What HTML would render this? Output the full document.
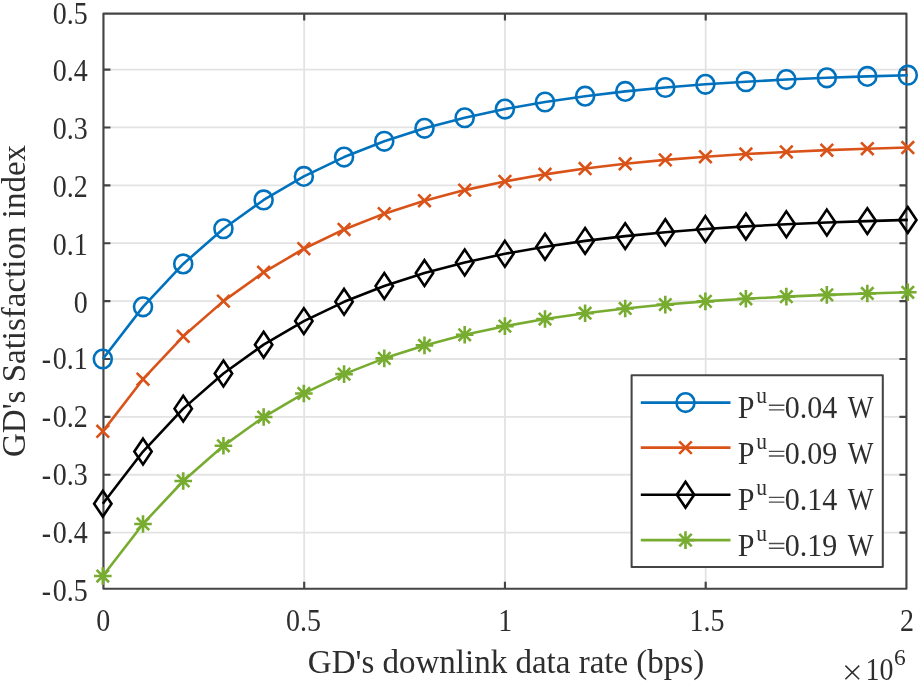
<!DOCTYPE html><html><head><meta charset="utf-8"><style>html,body{margin:0;padding:0;background:#fff;overflow:hidden;}svg{display:block;will-change:transform;}text{font-family:"Liberation Serif",serif;fill:#2e2e2e;}</style></head><body>
<svg width="922" height="683" viewBox="0 0 922 683">
<rect width="922" height="683" fill="#fff"/>
<g>
<path d="M304.20 13.56V588.75M504.95 13.56V588.75M705.70 13.56V588.75M103.45 69.56H906.44M103.45 127.45H906.44M103.45 185.33H906.44M103.45 243.22H906.44M103.45 301.10H906.44M103.45 358.99H906.44M103.45 416.87H906.44M103.45 474.75H906.44M103.45 532.64H906.44" stroke="#e3e3e3" stroke-width="1.8" fill="none"/>
<path d="M304.20 588.75v-7M304.20 13.56v7M504.95 588.75v-7M504.95 13.56v7M705.70 588.75v-7M705.70 13.56v7M103.45 69.56h7M906.44 69.56h-7M103.45 127.45h7M906.44 127.45h-7M103.45 185.33h7M906.44 185.33h-7M103.45 243.22h7M906.44 243.22h-7M103.45 301.10h7M906.44 301.10h-7M103.45 358.99h7M906.44 358.99h-7M103.45 416.87h7M906.44 416.87h-7M103.45 474.75h7M906.44 474.75h-7M103.45 532.64h7M906.44 532.64h-7" stroke="#444" stroke-width="2.15" stroke-linejoin="round" fill="none"/>
<rect x="103.45" y="13.56" width="802.99" height="575.19" stroke="#444" stroke-width="2.15" stroke-linejoin="round" fill="none"/>
<path d="M102.80 358.99 L143.01 306.87 L183.22 263.92 L223.43 228.75 L263.64 199.96 L303.85 176.38 L344.06 157.08 L384.27 141.28 L424.48 128.34 L464.69 117.75 L504.90 109.08 L545.00 101.98 L585.10 96.17 L625.20 91.41 L665.30 87.51 L705.40 84.32 L745.88 81.71 L786.36 79.57 L826.84 77.82 L867.32 76.38 L907.80 75.21" stroke="#0072BD" stroke-width="2.6" fill="none" stroke-linejoin="round"/>
 <ellipse cx="102.80" cy="358.99" rx="9.0" ry="9.3" fill="none" stroke="#0072BD" stroke-width="2.6"/>
 <ellipse cx="143.01" cy="306.87" rx="9.0" ry="9.3" fill="none" stroke="#0072BD" stroke-width="2.6"/>
 <ellipse cx="183.22" cy="263.92" rx="9.0" ry="9.3" fill="none" stroke="#0072BD" stroke-width="2.6"/>
 <ellipse cx="223.43" cy="228.75" rx="9.0" ry="9.3" fill="none" stroke="#0072BD" stroke-width="2.6"/>
 <ellipse cx="263.64" cy="199.96" rx="9.0" ry="9.3" fill="none" stroke="#0072BD" stroke-width="2.6"/>
 <ellipse cx="303.85" cy="176.38" rx="9.0" ry="9.3" fill="none" stroke="#0072BD" stroke-width="2.6"/>
 <ellipse cx="344.06" cy="157.08" rx="9.0" ry="9.3" fill="none" stroke="#0072BD" stroke-width="2.6"/>
 <ellipse cx="384.27" cy="141.28" rx="9.0" ry="9.3" fill="none" stroke="#0072BD" stroke-width="2.6"/>
 <ellipse cx="424.48" cy="128.34" rx="9.0" ry="9.3" fill="none" stroke="#0072BD" stroke-width="2.6"/>
 <ellipse cx="464.69" cy="117.75" rx="9.0" ry="9.3" fill="none" stroke="#0072BD" stroke-width="2.6"/>
 <ellipse cx="504.90" cy="109.08" rx="9.0" ry="9.3" fill="none" stroke="#0072BD" stroke-width="2.6"/>
 <ellipse cx="545.00" cy="101.98" rx="9.0" ry="9.3" fill="none" stroke="#0072BD" stroke-width="2.6"/>
 <ellipse cx="585.10" cy="96.17" rx="9.0" ry="9.3" fill="none" stroke="#0072BD" stroke-width="2.6"/>
 <ellipse cx="625.20" cy="91.41" rx="9.0" ry="9.3" fill="none" stroke="#0072BD" stroke-width="2.6"/>
 <ellipse cx="665.30" cy="87.51" rx="9.0" ry="9.3" fill="none" stroke="#0072BD" stroke-width="2.6"/>
 <ellipse cx="705.40" cy="84.32" rx="9.0" ry="9.3" fill="none" stroke="#0072BD" stroke-width="2.6"/>
 <ellipse cx="745.88" cy="81.71" rx="9.0" ry="9.3" fill="none" stroke="#0072BD" stroke-width="2.6"/>
 <ellipse cx="786.36" cy="79.57" rx="9.0" ry="9.3" fill="none" stroke="#0072BD" stroke-width="2.6"/>
 <ellipse cx="826.84" cy="77.82" rx="9.0" ry="9.3" fill="none" stroke="#0072BD" stroke-width="2.6"/>
 <ellipse cx="867.32" cy="76.38" rx="9.0" ry="9.3" fill="none" stroke="#0072BD" stroke-width="2.6"/>
 <ellipse cx="907.80" cy="75.21" rx="9.0" ry="9.3" fill="none" stroke="#0072BD" stroke-width="2.6"/>
<path d="M102.80 431.34 L143.01 379.23 L183.22 336.27 L223.43 301.11 L263.64 272.31 L303.85 248.74 L344.06 229.44 L384.27 213.64 L424.48 200.70 L464.69 190.11 L504.90 181.44 L545.00 174.34 L585.10 168.52 L625.20 163.76 L665.30 159.87 L705.40 156.68 L745.88 154.06 L786.36 151.93 L826.84 150.17 L867.32 148.74 L907.80 147.57" stroke="#D95319" stroke-width="2.6" fill="none" stroke-linejoin="round"/>
<path d="M96.50 425.04L109.10 437.64M96.50 437.64L109.10 425.04" stroke="#D95319" stroke-width="2.6" fill="none"/>
<path d="M136.71 372.93L149.31 385.53M136.71 385.53L149.31 372.93" stroke="#D95319" stroke-width="2.6" fill="none"/>
<path d="M176.92 329.97L189.52 342.57M176.92 342.57L189.52 329.97" stroke="#D95319" stroke-width="2.6" fill="none"/>
<path d="M217.13 294.81L229.73 307.41M217.13 307.41L229.73 294.81" stroke="#D95319" stroke-width="2.6" fill="none"/>
<path d="M257.34 266.01L269.94 278.61M257.34 278.61L269.94 266.01" stroke="#D95319" stroke-width="2.6" fill="none"/>
<path d="M297.55 242.44L310.15 255.04M297.55 255.04L310.15 242.44" stroke="#D95319" stroke-width="2.6" fill="none"/>
<path d="M337.76 223.14L350.36 235.74M337.76 235.74L350.36 223.14" stroke="#D95319" stroke-width="2.6" fill="none"/>
<path d="M377.97 207.34L390.57 219.94M377.97 219.94L390.57 207.34" stroke="#D95319" stroke-width="2.6" fill="none"/>
<path d="M418.18 194.40L430.78 207.00M418.18 207.00L430.78 194.40" stroke="#D95319" stroke-width="2.6" fill="none"/>
<path d="M458.39 183.81L470.99 196.41M458.39 196.41L470.99 183.81" stroke="#D95319" stroke-width="2.6" fill="none"/>
<path d="M498.60 175.14L511.20 187.74M498.60 187.74L511.20 175.14" stroke="#D95319" stroke-width="2.6" fill="none"/>
<path d="M538.70 168.04L551.30 180.64M538.70 180.64L551.30 168.04" stroke="#D95319" stroke-width="2.6" fill="none"/>
<path d="M578.80 162.22L591.40 174.82M578.80 174.82L591.40 162.22" stroke="#D95319" stroke-width="2.6" fill="none"/>
<path d="M618.90 157.46L631.50 170.06M618.90 170.06L631.50 157.46" stroke="#D95319" stroke-width="2.6" fill="none"/>
<path d="M659.00 153.57L671.60 166.17M659.00 166.17L671.60 153.57" stroke="#D95319" stroke-width="2.6" fill="none"/>
<path d="M699.10 150.38L711.70 162.98M699.10 162.98L711.70 150.38" stroke="#D95319" stroke-width="2.6" fill="none"/>
<path d="M739.58 147.76L752.18 160.36M739.58 160.36L752.18 147.76" stroke="#D95319" stroke-width="2.6" fill="none"/>
<path d="M780.06 145.63L792.66 158.23M780.06 158.23L792.66 145.63" stroke="#D95319" stroke-width="2.6" fill="none"/>
<path d="M820.54 143.87L833.14 156.47M820.54 156.47L833.14 143.87" stroke="#D95319" stroke-width="2.6" fill="none"/>
<path d="M861.02 142.44L873.62 155.04M861.02 155.04L873.62 142.44" stroke="#D95319" stroke-width="2.6" fill="none"/>
<path d="M901.50 141.27L914.10 153.87M901.50 153.87L914.10 141.27" stroke="#D95319" stroke-width="2.6" fill="none"/>
<path d="M102.80 503.70 L143.01 451.58 L183.22 408.63 L223.43 373.46 L263.64 344.67 L303.85 321.10 L344.06 301.80 L384.27 285.99 L424.48 273.06 L464.69 262.46 L504.90 253.79 L545.00 246.69 L585.10 240.88 L625.20 236.12 L665.30 232.22 L705.40 229.03 L745.88 226.42 L786.36 224.28 L826.84 222.53 L867.32 221.10 L907.80 219.92" stroke="#000000" stroke-width="2.6" fill="none" stroke-linejoin="round"/>
<path d="M102.80 490.80L111.50 503.70L102.80 516.60L94.10 503.70Z" stroke="#000000" stroke-width="2.6" fill="none" stroke-linejoin="miter"/>
<path d="M143.01 438.68L151.71 451.58L143.01 464.48L134.31 451.58Z" stroke="#000000" stroke-width="2.6" fill="none" stroke-linejoin="miter"/>
<path d="M183.22 395.73L191.92 408.63L183.22 421.53L174.52 408.63Z" stroke="#000000" stroke-width="2.6" fill="none" stroke-linejoin="miter"/>
<path d="M223.43 360.56L232.13 373.46L223.43 386.36L214.73 373.46Z" stroke="#000000" stroke-width="2.6" fill="none" stroke-linejoin="miter"/>
<path d="M263.64 331.77L272.34 344.67L263.64 357.57L254.94 344.67Z" stroke="#000000" stroke-width="2.6" fill="none" stroke-linejoin="miter"/>
<path d="M303.85 308.20L312.55 321.10L303.85 334.00L295.15 321.10Z" stroke="#000000" stroke-width="2.6" fill="none" stroke-linejoin="miter"/>
<path d="M344.06 288.90L352.76 301.80L344.06 314.70L335.36 301.80Z" stroke="#000000" stroke-width="2.6" fill="none" stroke-linejoin="miter"/>
<path d="M384.27 273.09L392.97 285.99L384.27 298.89L375.57 285.99Z" stroke="#000000" stroke-width="2.6" fill="none" stroke-linejoin="miter"/>
<path d="M424.48 260.16L433.18 273.06L424.48 285.96L415.78 273.06Z" stroke="#000000" stroke-width="2.6" fill="none" stroke-linejoin="miter"/>
<path d="M464.69 249.56L473.39 262.46L464.69 275.36L455.99 262.46Z" stroke="#000000" stroke-width="2.6" fill="none" stroke-linejoin="miter"/>
<path d="M504.90 240.89L513.60 253.79L504.90 266.69L496.20 253.79Z" stroke="#000000" stroke-width="2.6" fill="none" stroke-linejoin="miter"/>
<path d="M545.00 233.79L553.70 246.69L545.00 259.59L536.30 246.69Z" stroke="#000000" stroke-width="2.6" fill="none" stroke-linejoin="miter"/>
<path d="M585.10 227.98L593.80 240.88L585.10 253.78L576.40 240.88Z" stroke="#000000" stroke-width="2.6" fill="none" stroke-linejoin="miter"/>
<path d="M625.20 223.22L633.90 236.12L625.20 249.02L616.50 236.12Z" stroke="#000000" stroke-width="2.6" fill="none" stroke-linejoin="miter"/>
<path d="M665.30 219.32L674.00 232.22L665.30 245.12L656.60 232.22Z" stroke="#000000" stroke-width="2.6" fill="none" stroke-linejoin="miter"/>
<path d="M705.40 216.13L714.10 229.03L705.40 241.93L696.70 229.03Z" stroke="#000000" stroke-width="2.6" fill="none" stroke-linejoin="miter"/>
<path d="M745.88 213.52L754.58 226.42L745.88 239.32L737.18 226.42Z" stroke="#000000" stroke-width="2.6" fill="none" stroke-linejoin="miter"/>
<path d="M786.36 211.38L795.06 224.28L786.36 237.18L777.66 224.28Z" stroke="#000000" stroke-width="2.6" fill="none" stroke-linejoin="miter"/>
<path d="M826.84 209.63L835.54 222.53L826.84 235.43L818.14 222.53Z" stroke="#000000" stroke-width="2.6" fill="none" stroke-linejoin="miter"/>
<path d="M867.32 208.20L876.02 221.10L867.32 234.00L858.62 221.10Z" stroke="#000000" stroke-width="2.6" fill="none" stroke-linejoin="miter"/>
<path d="M907.80 207.02L916.50 219.92L907.80 232.82L899.10 219.92Z" stroke="#000000" stroke-width="2.6" fill="none" stroke-linejoin="miter"/>
<path d="M102.80 576.05 L143.01 523.94 L183.22 480.99 L223.43 445.82 L263.64 417.03 L303.85 393.45 L344.06 374.15 L384.27 358.35 L424.48 345.41 L464.69 334.82 L504.90 326.15 L545.00 319.05 L585.10 313.23 L625.20 308.48 L665.30 304.58 L705.40 301.39 L745.88 298.78 L786.36 296.64 L826.84 294.89 L867.32 293.45 L907.80 292.28" stroke="#77AC30" stroke-width="2.6" fill="none" stroke-linejoin="round"/>
<path d="M102.80 567.25V584.85M94.00 576.05H111.60M96.60 569.85L109.00 582.25M96.60 582.25L109.00 569.85" stroke="#77AC30" stroke-width="2.6" fill="none"/>
<path d="M143.01 515.14V532.74M134.21 523.94H151.81M136.81 517.74L149.21 530.14M136.81 530.14L149.21 517.74" stroke="#77AC30" stroke-width="2.6" fill="none"/>
<path d="M183.22 472.19V489.79M174.42 480.99H192.02M177.02 474.79L189.42 487.19M177.02 487.19L189.42 474.79" stroke="#77AC30" stroke-width="2.6" fill="none"/>
<path d="M223.43 437.02V454.62M214.63 445.82H232.23M217.23 439.62L229.63 452.02M217.23 452.02L229.63 439.62" stroke="#77AC30" stroke-width="2.6" fill="none"/>
<path d="M263.64 408.23V425.83M254.84 417.03H272.44M257.44 410.83L269.84 423.23M257.44 423.23L269.84 410.83" stroke="#77AC30" stroke-width="2.6" fill="none"/>
<path d="M303.85 384.65V402.25M295.05 393.45H312.65M297.65 387.25L310.05 399.65M297.65 399.65L310.05 387.25" stroke="#77AC30" stroke-width="2.6" fill="none"/>
<path d="M344.06 365.35V382.95M335.26 374.15H352.86M337.86 367.95L350.26 380.35M337.86 380.35L350.26 367.95" stroke="#77AC30" stroke-width="2.6" fill="none"/>
<path d="M384.27 349.55V367.15M375.47 358.35H393.07M378.07 352.15L390.47 364.55M378.07 364.55L390.47 352.15" stroke="#77AC30" stroke-width="2.6" fill="none"/>
<path d="M424.48 336.61V354.21M415.68 345.41H433.28M418.28 339.21L430.68 351.61M418.28 351.61L430.68 339.21" stroke="#77AC30" stroke-width="2.6" fill="none"/>
<path d="M464.69 326.02V343.62M455.89 334.82H473.49M458.49 328.62L470.89 341.02M458.49 341.02L470.89 328.62" stroke="#77AC30" stroke-width="2.6" fill="none"/>
<path d="M504.90 317.35V334.95M496.10 326.15H513.70M498.70 319.95L511.10 332.35M498.70 332.35L511.10 319.95" stroke="#77AC30" stroke-width="2.6" fill="none"/>
<path d="M545.00 310.25V327.85M536.20 319.05H553.80M538.80 312.85L551.20 325.25M538.80 325.25L551.20 312.85" stroke="#77AC30" stroke-width="2.6" fill="none"/>
<path d="M585.10 304.43V322.03M576.30 313.23H593.90M578.90 307.03L591.30 319.43M578.90 319.43L591.30 307.03" stroke="#77AC30" stroke-width="2.6" fill="none"/>
<path d="M625.20 299.68V317.28M616.40 308.48H634.00M619.00 302.28L631.40 314.68M619.00 314.68L631.40 302.28" stroke="#77AC30" stroke-width="2.6" fill="none"/>
<path d="M665.30 295.78V313.38M656.50 304.58H674.10M659.10 298.38L671.50 310.78M659.10 310.78L671.50 298.38" stroke="#77AC30" stroke-width="2.6" fill="none"/>
<path d="M705.40 292.59V310.19M696.60 301.39H714.20M699.20 295.19L711.60 307.59M699.20 307.59L711.60 295.19" stroke="#77AC30" stroke-width="2.6" fill="none"/>
<path d="M745.88 289.98V307.58M737.08 298.78H754.68M739.68 292.58L752.08 304.98M739.68 304.98L752.08 292.58" stroke="#77AC30" stroke-width="2.6" fill="none"/>
<path d="M786.36 287.84V305.44M777.56 296.64H795.16M780.16 290.44L792.56 302.84M780.16 302.84L792.56 290.44" stroke="#77AC30" stroke-width="2.6" fill="none"/>
<path d="M826.84 286.09V303.69M818.04 294.89H835.64M820.64 288.69L833.04 301.09M820.64 301.09L833.04 288.69" stroke="#77AC30" stroke-width="2.6" fill="none"/>
<path d="M867.32 284.65V302.25M858.52 293.45H876.12M861.12 287.25L873.52 299.65M861.12 299.65L873.52 287.25" stroke="#77AC30" stroke-width="2.6" fill="none"/>
<path d="M907.80 283.48V301.08M899.00 292.28H916.60M901.60 286.08L914.00 298.48M901.60 298.48L914.00 286.08" stroke="#77AC30" stroke-width="2.6" fill="none"/>
<text transform="translate(87.8 23.60) scale(1 1.15)" font-size="28" text-anchor="end">0.5</text>
<text transform="translate(87.8 81.25) scale(1 1.15)" font-size="28" text-anchor="end">0.4</text>
<text transform="translate(87.8 138.85) scale(1 1.15)" font-size="28" text-anchor="end">0.3</text>
<text transform="translate(87.8 196.85) scale(1 1.15)" font-size="28" text-anchor="end">0.2</text>
<text transform="translate(87.8 254.75) scale(1 1.15)" font-size="28" text-anchor="end">0.1</text>
<text transform="translate(87.8 312.55) scale(1 1.15)" font-size="28" text-anchor="end">0</text>
<text transform="translate(87.8 368.95) scale(1 1.15)" font-size="28" text-anchor="end">-<tspan dx="1.8">0.1</tspan></text>
<text transform="translate(87.8 426.70) scale(1 1.15)" font-size="28" text-anchor="end">-<tspan dx="1.8">0.2</tspan></text>
<text transform="translate(87.8 484.75) scale(1 1.15)" font-size="28" text-anchor="end">-<tspan dx="1.8">0.3</tspan></text>
<text transform="translate(87.8 542.50) scale(1 1.15)" font-size="28" text-anchor="end">-<tspan dx="1.8">0.4</tspan></text>
<text transform="translate(87.8 600.65) scale(1 1.15)" font-size="28" text-anchor="end">-<tspan dx="1.8">0.5</tspan></text>
<text transform="translate(103.15 631.05) scale(1 1.15)" font-size="28" text-anchor="middle">0</text>
<text transform="translate(303.40 631.05) scale(1 1.15)" font-size="28" text-anchor="middle">0.5</text>
<text transform="translate(505.15 631.05) scale(1 1.15)" font-size="28" text-anchor="middle">1</text>
<text transform="translate(706.90 631.05) scale(1 1.15)" font-size="28" text-anchor="middle">1.5</text>
<text transform="translate(907.05 631.05) scale(1 1.15)" font-size="28" text-anchor="middle">2</text>
<text x="506" y="672.6" font-size="33" text-anchor="middle">GD's downlink data rate (bps)</text>
<text transform="translate(24.9 301.0) rotate(-90)" x="0" y="0" font-size="33" text-anchor="middle">GD's Satisfaction index</text>
<path d="M845.4 665.6L859.2 679.2M845.4 679.2L859.2 665.6" stroke="#2e2e2e" stroke-width="1.5" fill="none"/>
<text transform="translate(865.5 680.4) scale(1 1.15)" font-size="28">10</text>
<text transform="translate(894.0 665.4) scale(1 1.0)" font-size="23.5">6</text>
<rect x="631.6" y="375.3" width="251.20" height="191.70" fill="#fff" stroke="#444" stroke-width="2.05" stroke-linejoin="round"/>
<path d="M640.8 402.6H730.5" stroke="#0072BD" stroke-width="2.6"/>
 <ellipse cx="685.50" cy="402.60" rx="9.0" ry="9.3" fill="none" stroke="#0072BD" stroke-width="2.6"/>
<text transform="translate(737.8 417.50) scale(1 1.08)" font-size="30">P</text>
<text transform="translate(756.2 403.10) scale(1 1.05)" font-size="21.5">u</text>
<path d="M768.9 405.20H784.4M768.9 409.90H784.4" stroke="#2e2e2e" stroke-width="1.35" opacity="0.85"/>
<text transform="translate(784.8 417.50) scale(1 1.08)" font-size="30">0.04</text>
<text transform="translate(847.8 417.50) scale(0.91 1.08)" font-size="30">W</text>
<path d="M640.8 447.6H730.5" stroke="#D95319" stroke-width="2.6"/>
<path d="M679.20 441.30L691.80 453.90M679.20 453.90L691.80 441.30" stroke="#D95319" stroke-width="2.6" fill="none"/>
<text transform="translate(737.8 463.60) scale(1 1.08)" font-size="30">P</text>
<text transform="translate(756.2 449.20) scale(1 1.05)" font-size="21.5">u</text>
<path d="M768.9 451.30H784.4M768.9 456.00H784.4" stroke="#2e2e2e" stroke-width="1.35" opacity="0.85"/>
<text transform="translate(784.8 463.60) scale(1 1.08)" font-size="30">0.09</text>
<text transform="translate(847.8 463.60) scale(0.91 1.08)" font-size="30">W</text>
<path d="M640.8 494.7H730.5" stroke="#000000" stroke-width="2.6"/>
<path d="M685.50 481.80L694.20 494.70L685.50 507.60L676.80 494.70Z" stroke="#000000" stroke-width="2.6" fill="none" stroke-linejoin="miter"/>
<text transform="translate(737.8 509.70) scale(1 1.08)" font-size="30">P</text>
<text transform="translate(756.2 495.30) scale(1 1.05)" font-size="21.5">u</text>
<path d="M768.9 497.40H784.4M768.9 502.10H784.4" stroke="#2e2e2e" stroke-width="1.35" opacity="0.85"/>
<text transform="translate(784.8 509.70) scale(1 1.08)" font-size="30">0.14</text>
<text transform="translate(847.8 509.70) scale(0.91 1.08)" font-size="30">W</text>
<path d="M640.8 540.1H730.5" stroke="#77AC30" stroke-width="2.6"/>
<path d="M685.50 531.30V548.90M676.70 540.10H694.30M679.30 533.90L691.70 546.30M679.30 546.30L691.70 533.90" stroke="#77AC30" stroke-width="2.6" fill="none"/>
<text transform="translate(737.8 555.80) scale(1 1.08)" font-size="30">P</text>
<text transform="translate(756.2 541.40) scale(1 1.05)" font-size="21.5">u</text>
<path d="M768.9 543.50H784.4M768.9 548.20H784.4" stroke="#2e2e2e" stroke-width="1.35" opacity="0.85"/>
<text transform="translate(784.8 555.80) scale(1 1.08)" font-size="30">0.19</text>
<text transform="translate(847.8 555.80) scale(0.91 1.08)" font-size="30">W</text>
</g>
</svg></body></html>
